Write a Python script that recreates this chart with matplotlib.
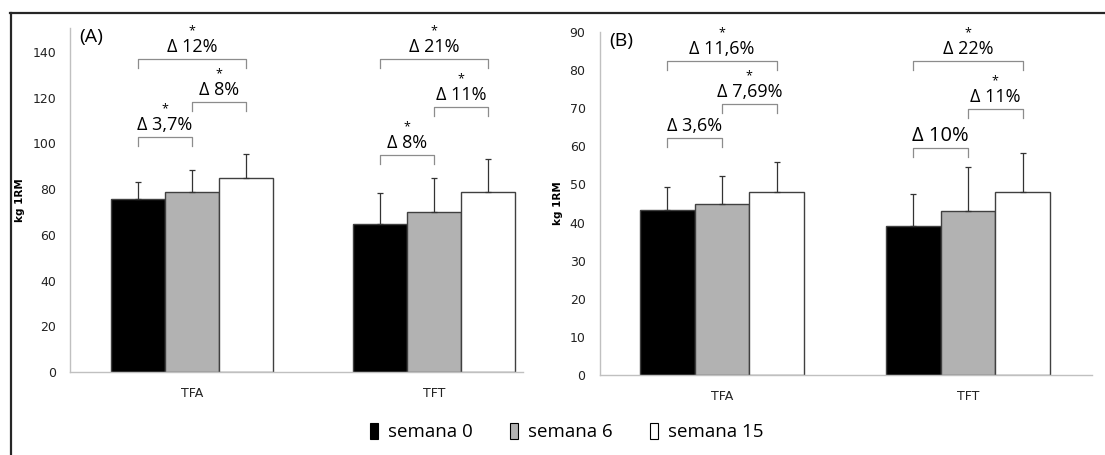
import numpy as np
import matplotlib
matplotlib.use("Agg")
from matplotlib import pyplot as plt
from matplotlib.patches import Patch
from matplotlib.lines import Line2D

# dados
categorias = ["TFA", "TFT"]
series = ["semana 0", "semana 6", "semana 15"]

# (A)
a_semana0 = [75.5, 64.9]
a_semana6 = [78.6, 69.9]
a_semana15 = [85.0, 78.9]
a_dp0 = [7.6, 13.5]
a_dp6 = [9.6, 15.1]
a_dp15 = [10.4, 14.5]

# (B)
b_semana0 = [43.3, 39.1]
b_semana6 = [44.8, 43.1]
b_semana15 = [48.1, 47.9]
b_dp0 = [5.9, 8.4]
b_dp6 = [7.4, 11.6]
b_dp15 = [7.7, 10.3]

# colchetes: (categoria, barra ini, barra fim, altura, texto, asterisco)
a_colchetes = [
    (0, 0, 2, 137, "Δ 12%", True),
    (0, 1, 2, 118, "Δ 8%", True),
    (0, 0, 1, 103, "Δ 3,7%", True),
    (1, 0, 2, 137, "Δ 21%", True),
    (1, 1, 2, 116, "Δ 11%", True),
    (1, 0, 1, 95, "Δ 8%", True),
]
b_colchetes = [
    (0, 0, 2, 82.4, "Δ 11,6%", True),
    (0, 1, 2, 71.1, "Δ 7,69%", True),
    (0, 0, 1, 62.2, "Δ 3,6%", False),
    (1, 0, 2, 82.4, "Δ 22%", True),
    (1, 1, 2, 69.8, "Δ 11%", True),
    (1, 0, 1, 59.6, "Δ 10%", False),
]

plt.rcParams['font.family'] = ['Open Sans', 'DejaVu Sans']

cores = ["black", "#b2b2b2", "white"]
W, H = 1105, 455


def painel(rect, medias, dps, colchetes, ylim, yticks, xlim, letra, queda):
    ax = fig.add_axes(rect)
    x = np.arange(len(categorias))
    larg = 0.222
    for k in range(3):
        pos = x + (k - 1) * larg
        ax.bar(pos, medias[k], larg, color=cores[k], edgecolor="#404040",
               linewidth=1.0, zorder=2)
        ax.errorbar(pos, medias[k], yerr=[np.zeros(2), dps[k]], fmt='none',
                    ecolor="#333333", elinewidth=0.9, capsize=2.5,
                    capthick=0.9, zorder=3)

    ax.set_xlim(*xlim)
    ax.set_ylim(*ylim)
    ax.set_yticks(yticks)
    ax.set_xticks(x)
    ax.set_xticklabels(categorias)
    ax.tick_params(length=0, labelsize=9, colors="#222222")
    ax.tick_params(axis='y', pad=10)
    ax.tick_params(axis='x', pad=11)
    for lbl in ax.get_xticklabels() + ax.get_yticklabels():
        lbl.set_family('DejaVu Sans')
    for s in ['top', 'right']:
        ax.spines[s].set_visible(False)
    for s in ['left', 'bottom']:
        ax.spines[s].set_color("#c0c0c0")
        ax.spines[s].set_linewidth(1.0)
    ax.set_ylabel("kg 1RM", fontsize=7.5, fontweight='bold',
                  family='DejaVu Sans', labelpad=5)

    ax.text(0.02, 0.975, letra, transform=ax.transAxes, fontsize=14,
            va='center', ha='left')

    for cat, i, j, alt, texto, ast in colchetes:
        x0 = cat + (i - 1) * larg
        x1 = cat + (j - 1) * larg
        ax.plot([x0, x0, x1, x1], [alt - queda, alt, alt, alt - queda],
                color="#8c8c8c", linewidth=0.9, clip_on=False)
        xm = (x0 + x1) / 2
        tam = 14.5 if texto == "Δ 10%" else 13
        ax.annotate(texto, (xm, alt), xytext=(0, 12),
                    textcoords='offset pixels', ha='center', va='center',
                    fontsize=tam, annotation_clip=False)
        if ast:
            ax.annotate("*", (xm, alt), xytext=(0, 28),
                        textcoords='offset pixels', ha='center',
                        va='center', fontsize=9, annotation_clip=False)
    return ax


fig = plt.figure(figsize=(W / 100, H / 100), dpi=100)

painel([70 / W, (H - 372) / H, 453 / W, 344 / H],
       [a_semana0, a_semana6, a_semana15], [a_dp0, a_dp6, a_dp15],
       a_colchetes, (0, 150.5), np.arange(0, 141, 20), (-0.504, 1.368),
       "(A)", 4)

painel([599.5 / W, (H - 375) / H, 492.5 / W, 343 / H],
       [b_semana0, b_semana6, b_semana15], [b_dp0, b_dp6, b_dp15],
       b_colchetes, (0, 90), np.arange(0, 91, 10), (-0.498, 1.504),
       "(B)", 2.4)

# legenda
handles = [Patch(facecolor=cores[k], edgecolor="black", linewidth=0.8)
           for k in range(3)]
fig.legend(handles, series, loc='center', bbox_to_anchor=(566.5 / W, 23 / H),
           ncol=3, frameon=False, fontsize=13.5, handlelength=0.45,
           handleheight=1.0, handletextpad=0.5, columnspacing=2.0)

# moldura
fig.add_artist(Line2D([10 / W, 1], [(H - 13) / H, (H - 13) / H],
                      color="#262626", linewidth=1.6))
fig.add_artist(Line2D([11 / W, 11 / W], [0, (H - 13) / H],
                      color="#262626", linewidth=1.6))

fig.savefig("out.png", dpi=100)
